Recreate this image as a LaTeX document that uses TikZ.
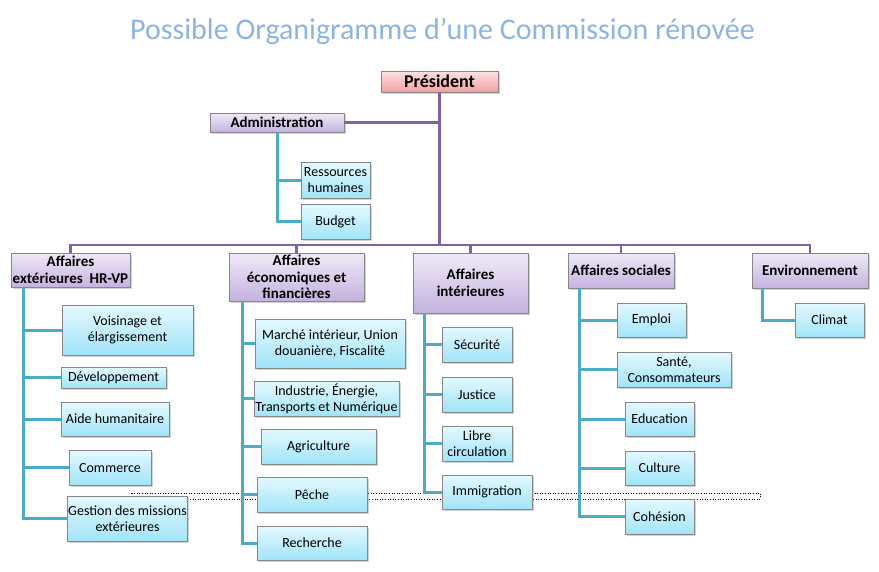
\documentclass[tikz,border=0pt]{standalone}
\usepackage{fontspec}
\setmainfont{Carlito}
\usepackage{xcolor}
\usetikzlibrary{shadows}

\definecolor{trunkpurple}{RGB}{128,100,162}
\definecolor{branchteal}{RGB}{75,172,198}
\definecolor{titleblue}{RGB}{141,180,226}
\definecolor{boxedge}{RGB}{135,135,135}
\definecolor{leaftop}{RGB}{228,249,255}
\definecolor{leafbot}{RGB}{160,228,248}
\definecolor{headtop}{RGB}{240,234,248}
\definecolor{headbot}{RGB}{196,178,222}
\definecolor{prestop}{RGB}{255,226,226}
\definecolor{presbot}{RGB}{244,160,160}

\tikzset{
  box/.style={draw=boxedge, line width=0.8pt, align=center, inner sep=1pt,
    drop shadow={shadow xshift=1.6pt, shadow yshift=-1.6pt, opacity=0.35}},
  leaf/.style={box, top color=leaftop, bottom color=leafbot,
    font=\fontsize{14}{16}\selectfont},
  head/.style={box, top color=headtop, bottom color=headbot,
    font=\fontsize{15}{16.5}\selectfont\bfseries},
  presbox/.style={box, top color=prestop, bottom color=presbot,
    font=\fontsize{18}{20}\selectfont\bfseries},
  trunk/.style={draw=trunkpurple, line width=2.8pt},
  branch/.style={draw=branchteal, line width=3pt},
}

\begin{document}
\begin{tikzpicture}[x=1pt,y=-1pt]
  \useasboundingbox (0,0) rectangle (879,571);

  % titre
  \node[text=titleblue, font=\fontsize{30}{34}\selectfont] (titre) at (442.5,31)
    {Possible Organigramme d’une Commission rénovée};

  % cadre pointillé
  \draw[dotted, line width=0.6pt] (131,493) rectangle (760,499);

  % sommet
  \node[presbox, minimum width=117pt, minimum height=21pt] (pres) at (439.5,81.5) {Président};
  \node[head, minimum width=134pt, minimum height=19pt] (adm) at (277,122.5) {Administration};
  \node[leaf, minimum width=69pt, minimum height=36pt] (rh) at (335.5,180) {Ressources\\humaines};
  \node[leaf, minimum width=69pt, minimum height=35pt] (budget) at (335.5,221.5) {Budget};

  % directions
  \node[head, minimum width=119pt, minimum height=34pt] (ae) at (70.5,270) {Affaires\\extérieures~ HR-VP};
  \node[head, minimum width=135pt, minimum height=48pt] (aef) at (296.5,277) {Affaires\\économiques et\\financières};
  \node[head, minimum width=115pt, minimum height=60pt] (ai) at (470.5,283) {Affaires\\intérieures};
  \node[head, minimum width=106pt, minimum height=35pt] (as) at (621,270.5) {Affaires sociales};
  \node[head, minimum width=116pt, minimum height=35pt] (env) at (810,270.5) {Environnement};

  % affaires extérieures
  \node[leaf, minimum width=131pt, minimum height=50pt] (voisin) at (127.5,330) {Voisinage et\\élargissement};
  \node[leaf, minimum width=105pt, minimum height=21pt] (dev) at (113.5,377.5) {Développement};
  \node[leaf, minimum width=108pt, minimum height=34pt] (aide) at (115,419) {Aide humanitaire};
  \node[leaf, minimum width=82pt, minimum height=35pt] (comm) at (110,467.5) {Commerce};
  \node[leaf, minimum width=117pt, minimum height=45pt] (gest) at (127.5,518.5) {Gestion des missions\\extérieures};

  % affaires économiques
  \node[leaf, minimum width=150pt, minimum height=49pt] (marche) at (330,343.5) {Marché intérieur, Union\\douanière, Fiscalité};
  \node[leaf, minimum width=145pt, minimum height=35pt] (indus) at (326.5,398.5) {Industrie, Énergie,\\Transports et Numérique};
  \node[leaf, minimum width=115pt, minimum height=35pt] (agri) at (318.5,446.5) {Agriculture};
  \node[leaf, minimum width=110pt, minimum height=35pt] (peche) at (312,494.5) {Pêche};
  \node[leaf, minimum width=110pt, minimum height=34pt] (rech) at (312,543) {Recherche};

  % affaires intérieures
  \node[leaf, minimum width=70pt, minimum height=35pt] (secu) at (477,344.5) {Sécurité};
  \node[leaf, minimum width=70pt, minimum height=35pt] (justice) at (477,394.5) {Justice};
  \node[leaf, minimum width=70pt, minimum height=35pt] (libre) at (477,443.5) {Libre\\circulation};
  \node[leaf, minimum width=90pt, minimum height=34pt] (immig) at (487,492) {Immigration};

  % affaires sociales
  \node[leaf, minimum width=69pt, minimum height=34pt] (emploi) at (651.5,320) {Emploi};
  \node[leaf, minimum width=114pt, minimum height=35pt] (sante) at (674,369.5) {Santé,\\Consommateurs};
  \node[leaf, minimum width=69pt, minimum height=34pt] (educ) at (659.5,419) {Education};
  \node[leaf, minimum width=69pt, minimum height=34pt] (culture) at (659.5,468) {Culture};
  \node[leaf, minimum width=69pt, minimum height=35pt] (cohes) at (659.5,516.5) {Cohésion};

  % environnement
  \node[leaf, minimum width=69pt, minimum height=34pt] (climat) at (829.5,320) {Climat};

  % liaisons principales
  \coordinate (hub) at (439.5,245);
  \draw[trunk] (pres.south) -- (hub);
  \draw[trunk] (adm.east) -- (adm.east -| hub);
  \foreach \h in {ae,aef,ai,as,env}
    \draw[trunk] (hub) -| (\h.north);

  % liaisons secondaires
  \foreach \c in {rh,budget}
    \draw[branch] (adm.south) |- (\c.west);
  \coordinate (aet) at ([xshift=13pt]ae.south west);
  \foreach \c in {voisin,dev,aide,comm,gest}
    \draw[branch] (aet) |- (\c.west);
  \coordinate (aeft) at ([xshift=14pt]aef.south west);
  \foreach \c in {marche,indus,agri,peche,rech}
    \draw[branch] (aeft) |- (\c.west);
  \coordinate (ait) at ([xshift=12pt]ai.south west);
  \foreach \c in {secu,justice,libre,immig}
    \draw[branch] (ait) |- (\c.west);
  \coordinate (ast) at ([xshift=12pt]as.south west);
  \foreach \c in {emploi,sante,educ,culture,cohes}
    \draw[branch] (ast) |- (\c.west);
  \coordinate (envt) at ([xshift=11pt]env.south west);
  \draw[branch] (envt) |- (climat.west);
\end{tikzpicture}
\end{document}
